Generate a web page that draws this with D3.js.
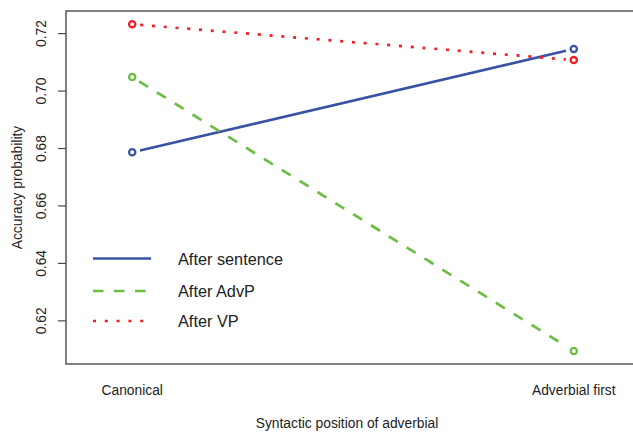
<!DOCTYPE html>
<html>
<head>
<meta charset="utf-8">
<script src="https://cdn.jsdelivr.net/npm/d3@7"></script>
<style>
  html, body { margin: 0; padding: 0; background: #fff; }
  svg { display: block; font-family: "Liberation Sans", Arial, Helvetica, sans-serif; }
</style>
</head>
<body>
<svg id="chart" width="633" height="433"></svg>
<script>
const categories = ["Canonical", "Adverbial first"];
const afterSentence = [0.6785, 0.7145];
const afterAdvP = [0.7047, 0.6093];
const afterVP = [0.7231, 0.7106];
const yTicks = [0.62, 0.64, 0.66, 0.68, 0.70, 0.72];
const seriesNames = ["After sentence", "After AdvP", "After VP"];

const series = [
  { name: seriesNames[0], values: afterSentence, color: "#3953a4", dash: null },
  { name: seriesNames[1], values: afterAdvP, color: "#6cbd45", dash: "10.5,10.5" },
  { name: seriesNames[2], values: afterVP, color: "#ee1f25", dash: "3,8.8" }
];

const svg = d3.select("#chart");
const pLeft = 66, pRight = 640, pTop = 11, pBottom = 364;

const x = d3.scaleLinear().domain([0.85, 2.15]).range([pLeft, pRight]);
const y = d3.scaleLinear().domain([0.6048, 0.7277]).range([pBottom, pTop]);

// box
svg.append("rect")
  .attr("x", pLeft).attr("y", pTop)
  .attr("width", pRight - pLeft).attr("height", pBottom - pTop)
  .attr("fill", "none").attr("stroke", "#4a4a4a").attr("stroke-width", 1.4);

// y axis
const yAxis = d3.axisLeft(y).tickValues(yTicks).tickSize(8).tickFormat(d3.format(".2f"));
const gy = svg.append("g").attr("transform", `translate(${pLeft},0)`).call(yAxis);
gy.select(".domain").remove();
gy.selectAll(".tick line").attr("stroke", "#4a4a4a").attr("stroke-width", 1.2);
gy.selectAll(".tick text")
  .attr("x", 0).attr("y", 0).attr("dy", null)
  .attr("transform", "translate(-20,0) rotate(-90)")
  .attr("text-anchor", "middle")
  .attr("font-size", 13.8).attr("fill", "#222")
  .attr("font-family", "Liberation Sans, Arial, sans-serif");

// x category labels
svg.selectAll(".xlab").data(categories).enter().append("text")
  .attr("class", "xlab")
  .attr("x", (d, i) => x(i + 1)).attr("y", 395)
  .attr("text-anchor", "middle").attr("font-size", 13.8).attr("fill", "#222")
  .text(d => d);

// axis titles
svg.append("text")
  .attr("x", (pLeft + 628) / 2).attr("y", 428)
  .attr("text-anchor", "middle").attr("font-size", 13.8).attr("fill", "#222")
  .text("Syntactic position of adverbial");
svg.append("text")
  .attr("transform", `translate(21.5,${(pTop + pBottom) / 2}) rotate(-90)`)
  .attr("text-anchor", "middle").attr("font-size", 13.8).attr("fill", "#222")
  .text("Accuracy probability");

// lines (type "b": gaps around points)
const gap = 8;
series.forEach(s => {
  const x1 = x(1), y1 = y(s.values[0]), x2 = x(2), y2 = y(s.values[1]);
  const len = Math.hypot(x2 - x1, y2 - y1);
  const ux = (x2 - x1) / len, uy = (y2 - y1) / len;
  const ln = svg.append("line")
    .attr("x1", x1 + ux * gap).attr("y1", y1 + uy * gap)
    .attr("x2", x2 - ux * gap).attr("y2", y2 - uy * gap)
    .attr("stroke", s.color).attr("stroke-width", 2.7);
  if (s.dash) ln.attr("stroke-dasharray", s.dash);
  svg.selectAll(null).data(s.values).enter().append("circle")
    .attr("cx", (d, i) => x(i + 1)).attr("cy", d => y(d))
    .attr("r", 3.1).attr("fill", "none")
    .attr("stroke", s.color).attr("stroke-width", 2.3);
});

// legend
const legY = [258.5, 291, 321];
series.forEach((s, i) => {
  const ln = svg.append("line")
    .attr("x1", 93).attr("x2", 151)
    .attr("y1", legY[i]).attr("y2", legY[i])
    .attr("stroke", s.color).attr("stroke-width", 2.7);
  if (s.dash) ln.attr("stroke-dasharray", s.dash);
  svg.append("text")
    .attr("x", 178).attr("y", legY[i] + 6)
    .attr("font-size", 16.3).attr("fill", "#222")
    .text(s.name);
});
</script>
</body>
</html>
